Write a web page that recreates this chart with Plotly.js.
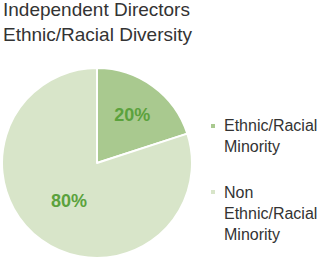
<!DOCTYPE html>
<html><head><meta charset="utf-8">
<script src="https://cdn.plot.ly/plotly-3.0.1.min.js"></script>
<style>html,body{margin:0;padding:0;background:#fff}#c{width:321px;height:262px}</style>
</head><body><div id="c"></div>
<script>
const categories = ["Ethnic/Racial<br>Minority", "Non<br>Ethnic/Racial<br>Minority"];
const values = [20, 80];
const sliceColors = ["#a9c98f", "#d8e5c9"];
const titleText = "Independent Directors<br>Ethnic/Racial Diversity";

const W = 321, H = 262;
const px = x => x / W, py = y => 1 - y / H;
const FONT = "Liberation Sans, Arial, sans-serif";

// legend built from categories/colours (layout positions only)
const legendCenters = [135.5, 213];
const legendFirstLine = [126, 192];
const annotations = categories.map((c, i) => ({
  xref: "paper", yref: "paper", x: px(222), y: py(legendCenters[i]),
  xanchor: "left", yanchor: "middle", align: "left", showarrow: false,
  text: c, font: {family: FONT, size: 16, color: "#333333"}
}));
const shapes = sliceColors.map((col, i) => ({
  type: "rect", xref: "paper", yref: "paper",
  x0: px(211), x1: px(215), y0: py(legendFirstLine[i] - 2), y1: py(legendFirstLine[i] + 2),
  fillcolor: col, line: {width: 0}
}));

Plotly.newPlot("c", [{
  type: "pie",
  labels: categories,
  values: values,
  sort: false,
  direction: "clockwise",
  rotation: 0,
  marker: {colors: sliceColors, line: {color: "#ffffff", width: 2}},
  textinfo: "percent",
  textposition: "inside",
  insidetextorientation: "horizontal",
  textfont: {family: FONT, size: 18, color: "#5ba23d", weight: "bold"},
  hoverinfo: "none",
  showlegend: false,
  domain: {x: [px(2), px(192)], y: [py(258), py(68)]}
}], {
  width: W, height: H,
  margin: {l: 0, r: 0, t: 0, b: 0, pad: 0},
  paper_bgcolor: "#ffffff",
  title: {text: titleText, x: px(3), xanchor: "left", xref: "paper", y: py(16), yanchor: "middle", yref: "paper",
          font: {family: FONT, size: 19, color: "#333333"}, automargin: false},
  showlegend: false,
  annotations: annotations,
  shapes: shapes
}, {staticPlot: true});
</script></body></html>
